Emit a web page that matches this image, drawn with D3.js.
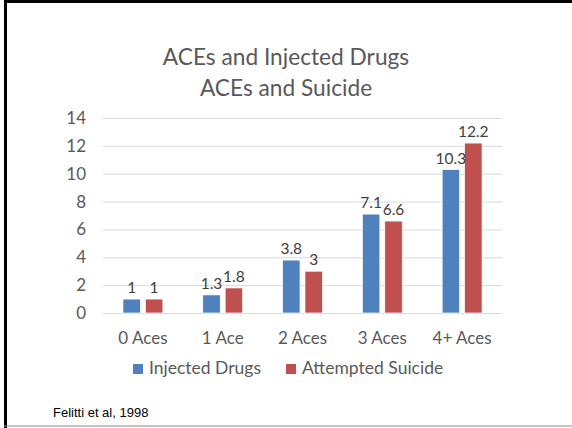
<!DOCTYPE html>
<html>
<head>
<meta charset="utf-8">
<script src="https://cdn.jsdelivr.net/npm/d3@7"></script>
<style>
  body { margin: 0; background: #fff; }
  svg { display: block; }
  .grid line { stroke: #d9d9d9; }
  .grid path { display: none; }
  .axis text { fill: #595959; font-family: Lato, "Open Sans", sans-serif; font-size: 17px; }
</style>
</head>
<body>
<div id="chart"></div>
<script>
const categories = ["0 Aces", "1 Ace", "2 Aces", "3 Aces", "4+ Aces"];
const seriesNames = ["Injected Drugs", "Attempted Suicide"];
const injectedDrugs = [1, 1.3, 3.8, 7.1, 10.3];
const attemptedSuicide = [1, 1.8, 3, 6.6, 12.2];
const yTicks = [0, 2, 4, 6, 8, 10, 12, 14];
const titleLines = ["ACEs and Injected Drugs", "ACEs and Suicide"];
const colors = ["#4f81bd", "#c0504d"];

const W = 572, H = 428;
const font = "Lato, 'Open Sans', sans-serif";

const svg = d3.select("#chart").append("svg")
  .attr("width", W).attr("height", H);

// slide frame
svg.append("rect").attr("x", 4).attr("y", 0).attr("width", W - 4).attr("height", 3).attr("fill", "#000");
svg.append("rect").attr("x", 4).attr("y", 0).attr("width", 3).attr("height", H).attr("fill", "#000");
svg.append("line").attr("x1", 4).attr("x2", W).attr("y1", 426).attr("y2", 426)
  .attr("stroke", "#888").attr("stroke-width", 1);

const plot = { left: 103, right: 502, top: 118, bottom: 313 };

const x0 = d3.scaleBand().domain(categories)
  .range([plot.left, plot.right]).paddingInner(0.5).paddingOuter(0.25);
const x1 = d3.scaleBand().domain(seriesNames)
  .range([0, x0.bandwidth()]).paddingInner(0.22);
const y = d3.scaleLinear().domain([0, 14]).range([plot.bottom, plot.top]);

// gridlines
svg.append("g").attr("class", "grid")
  .attr("transform", "translate(" + plot.left + ",0)")
  .call(d3.axisLeft(y).tickValues(yTicks).tickSize(-(plot.right - plot.left)).tickFormat(""));

// y axis labels
svg.append("g").attr("class", "axis")
  .attr("transform", "translate(" + plot.left + ",0)")
  .call(d3.axisLeft(y).tickValues(yTicks).tickSize(0).tickPadding(17))
  .call(g => g.select(".domain").remove());

// x axis labels
svg.append("g").attr("class", "axis")
  .attr("transform", "translate(0," + plot.bottom + ")")
  .call(d3.axisBottom(x0).tickSize(0).tickPadding(19))
  .call(g => g.select(".domain").remove());

const rows = categories.map((c, i) => ({
  cat: c,
  vals: [
    { name: seriesNames[0], v: injectedDrugs[i], color: colors[0] },
    { name: seriesNames[1], v: attemptedSuicide[i], color: colors[1] }
  ]
}));

const groups = svg.selectAll(".grp").data(rows).enter().append("g")
  .attr("transform", d => "translate(" + x0(d.cat) + ",0)");

groups.selectAll("rect").data(d => d.vals).enter().append("rect")
  .attr("x", d => x1(d.name))
  .attr("y", d => y(d.v))
  .attr("width", x1.bandwidth())
  .attr("height", d => y(0) - y(d.v))
  .attr("fill", d => d.color)
  .attr("stroke", "#fff")
  .attr("stroke-width", 0.7);

groups.selectAll("text").data(d => d.vals).enter().append("text")
  .attr("x", d => x1(d.name) + x1.bandwidth() / 2)
  .attr("y", d => y(d.v) - 6)
  .attr("text-anchor", "middle")
  .attr("fill", "#404040")
  .attr("font-family", font)
  .attr("font-size", 15.5)
  .text(d => d.v);

// title
svg.append("g").selectAll("text").data(titleLines).enter().append("text")
  .attr("x", 286)
  .attr("y", (d, i) => 65 + i * 31)
  .attr("text-anchor", "middle")
  .attr("fill", "#595959")
  .attr("font-family", font)
  .attr("font-size", 22.7)
  .text(d => d);

// legend
const legendX = [133, 286];
const legend = svg.append("g").selectAll("g").data(seriesNames).enter().append("g")
  .attr("transform", (d, i) => "translate(" + legendX[i] + ",374)");
legend.append("rect").attr("x", 0).attr("y", -10).attr("width", 10).attr("height", 10)
  .attr("fill", (d, i) => colors[i]);
legend.append("text").attr("x", 16).attr("y", 0)
  .attr("fill", "#595959").attr("font-family", font).attr("font-size", 17.5)
  .text(d => d);

// source note
svg.append("text").attr("x", 53).attr("y", 417)
  .attr("font-family", "'Liberation Sans', Arial, sans-serif").attr("font-size", 13)
  .attr("fill", "#000")
  .text("Felitti et al, 1998");
</script>
</body>
</html>
